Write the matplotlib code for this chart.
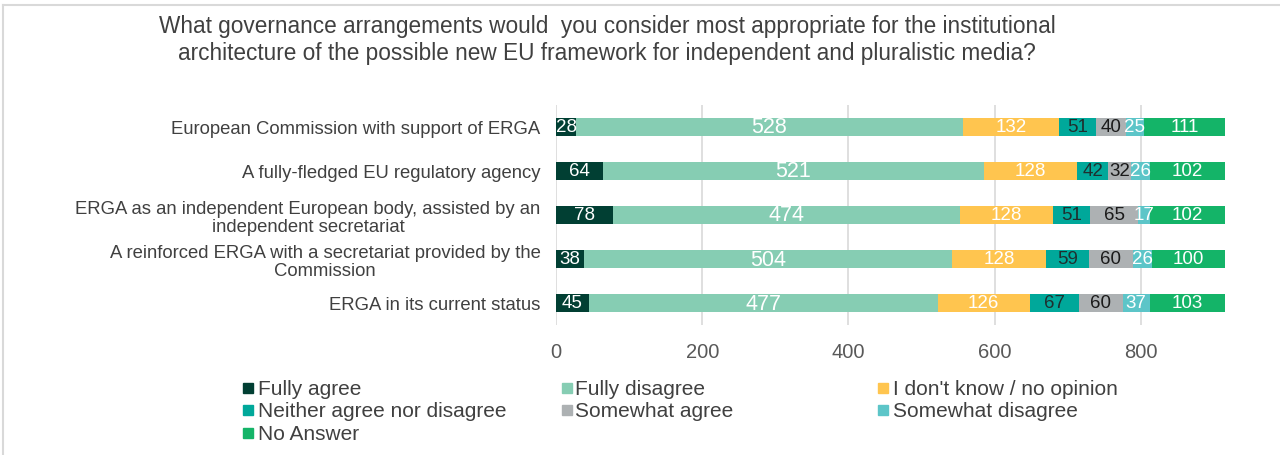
import matplotlib
matplotlib.use("Agg")
import matplotlib.pyplot as plt
from matplotlib.patches import Rectangle
from matplotlib.lines import Line2D

categories = [
    "European Commission with support of ERGA",
    "A fully-fledged EU regulatory agency",
    "ERGA as an independent European body, assisted by an\nindependent secretariat",
    "A reinforced ERGA with a secretariat provided by the\nCommission",
    "ERGA in its current status",
]
series_names = ["Fully agree", "Fully disagree", "I don't know / no opinion",
                "Neither agree nor disagree", "Somewhat agree", "Somewhat disagree", "No Answer"]
fully_agree = [28, 64, 78, 38, 45]
fully_disagree = [528, 521, 474, 504, 477]
dont_know = [132, 128, 128, 128, 126]
neither = [51, 42, 51, 59, 67]
somewhat_agree = [40, 32, 65, 60, 60]
somewhat_disagree = [25, 26, 17, 26, 37]
no_answer = [111, 102, 102, 100, 103]
series = [fully_agree, fully_disagree, dont_know, neither, somewhat_agree, somewhat_disagree, no_answer]
colors = ["#013F33", "#86CDB3", "#FFC54F", "#00A89A", "#ADB1B3", "#5CC5C8", "#14B468"]
label_colors = ["white", "white", "white", "#1F2F2F", "#1A1A1A", "white", "white"]
label_sizes = [13.5, 15.5, 13.5, 13.5, 13.5, 13.5, 13.5]
xticks = [0, 200, 400, 600, 800]

FONT = "Liberation Sans"
plt.rcParams["font.family"] = [FONT, "DejaVu Sans"]
text_color = "#404040"

fig = plt.figure(figsize=(12.8, 4.56), dpi=100)
W, H = 1280, 456
ax = fig.add_axes([556 / W, 1 - 326 / H, (1225 - 556) / W, 220 / H])

ypos = list(range(len(categories)))
left = [0] * len(categories)
for vals, col, lc, ls in zip(series, colors, label_colors, label_sizes):
    bars = ax.barh(ypos, vals, left=left, height=0.41, color=col, zorder=3)
    for b, v in zip(bars, vals):
        ax.text(b.get_x() + b.get_width() / 2, b.get_y() + b.get_height() / 2, str(v),
                ha="center", va="center", color=lc, fontsize=ls, zorder=4)
    left = [l + v for l, v in zip(left, vals)]

ax.set_xlim(0, max(left))
ax.set_ylim(len(categories) - 0.5, -0.5)
ax.set_yticks(ypos)
ax.set_yticklabels(categories, fontsize=13.3, color=text_color, multialignment="center",
                   linespacing=1.1)
ax.set_xticks(xticks)
ax.set_xticklabels([str(t) for t in xticks], fontsize=14.5, color="#595959")
ax.tick_params(axis="both", length=0)
ax.tick_params(axis="x", pad=12)
ax.tick_params(axis="y", pad=11)
for s in ax.spines.values():
    s.set_visible(False)
ax.grid(axis="x", color="#D9D9D9", linewidth=1.2, zorder=0)
ax.set_axisbelow(True)

fig.text(607 / W, 1 - 40 / H,
         "What governance arrangements would  you consider most appropriate for the institutional\n"
         "architecture of the possible new EU framework for independent and pluralistic media?",
         ha="center", va="center", fontsize=16.3, color=text_color, linespacing=1.2)

# legend (row-wise order)
mark_x = [243, 562, 878]
text_x = [258, 575, 893]
leg_y = [389, 411, 434]
for i, (name, col) in enumerate(zip(series_names, colors)):
    r, c = divmod(i, 3)
    y = leg_y[r]
    fig.patches.append(Rectangle((mark_x[c] / W, 1 - (y + 5) / H), 10 / W, 10 / H, color=col,
                                 transform=fig.transFigure, figure=fig))
    fig.text(text_x[c] / W, 1 - (y + 1) / H, name, ha="left", va="center", fontsize=15,
             color=text_color)

# frame
fig.add_artist(Line2D([3 / W, 1], [1 - 6 / H, 1 - 6 / H], color="#D9D9D9", linewidth=1.5,
                      transform=fig.transFigure))
fig.add_artist(Line2D([3 / W, 3 / W], [0, 1 - 6 / H], color="#D9D9D9", linewidth=1.5,
                      transform=fig.transFigure))

fig.savefig("out.png", dpi=100, facecolor="white")
